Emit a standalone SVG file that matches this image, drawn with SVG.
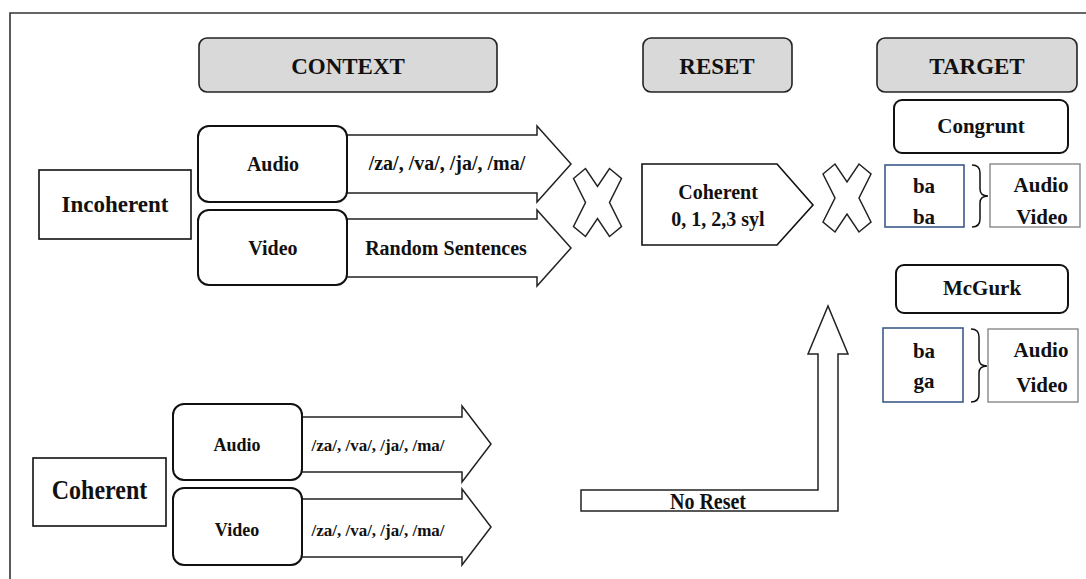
<svg xmlns="http://www.w3.org/2000/svg" width="1086" height="579" viewBox="0 0 1086 579">
<style>
text{font-family:"Liberation Serif","Times New Roman",serif;font-weight:bold;fill:#111;text-anchor:middle}
.hdr{fill:#d9d9d9;stroke:#222;stroke-width:1.6}
.rb{fill:#fff;stroke:#111;stroke-width:2}
.sq{fill:#fff;stroke:#111;stroke-width:1.6}
.arw{fill:#fff;stroke:#222;stroke-width:1.5}
.blue{fill:#fff;stroke:#3d5a8a;stroke-width:1.6}
.gray{fill:#fff;stroke:#888;stroke-width:1.4}
.br{fill:none;stroke:#111;stroke-width:1.5}
.t24{font-size:23px}
.t20{font-size:20px}
.t21{font-size:21px}
.t17{font-size:17px}
</style>
<defs>
<polygon id="xmark" points="-24,-24 -12,-34 0,-16 12,-34 24,-24 12,0 24,24 12,34 0,16 -12,34 -24,24 -12,0" fill="#fff" stroke="#222" stroke-width="1.5"/>
</defs>
<path d="M10,579 V13 H1086" fill="none" stroke="#333" stroke-width="1.6"/>

<g id="hdr-context"><rect class="hdr" x="199" y="38" width="298" height="54" rx="8"/><text class="t24" x="348" y="74">CONTEXT</text></g>
<g id="hdr-reset"><rect class="hdr" x="643" y="38" width="149" height="54" rx="8"/><text class="t24" x="717" y="74">RESET</text></g>
<g id="hdr-target"><rect class="hdr" x="877" y="38" width="200" height="54" rx="8"/><text class="t24" x="977" y="74">TARGET</text></g>

<g id="connectors">
<polygon class="arw" points="340,135 537,135 537,126 571,164 537,202 537,193 340,193"/>
<polygon class="arw" points="340,219 537,219 537,210 571,248 537,286 537,277 340,277"/>
<polygon class="arw" points="296,417 462,417 462,406 491,444 462,482 462,472 296,472"/>
<polygon class="arw" points="296,499 462,499 462,489 491,527 462,565 462,557 296,557"/>
<polygon class="arw" points="581,490 818,490 818,354 808,354 828,306 848,354 838,354 838,511 581,511"/>
<path class="br" d="M972,165 Q980,165 980,173 V189 Q980,196 988,196 Q980,196 980,203 V219 Q980,227 972,227"/>
<path class="br" d="M971,329 Q979,329 979,337 V359 Q979,366 987,366 Q979,366 979,373 V394 Q979,402 971,402"/>
</g>

<g id="incoherent"><rect class="sq" x="39" y="170" width="152" height="69"/><text class="t24" x="115" y="212">Incoherent</text></g>
<g id="inc-audio"><rect class="rb" x="198" y="126" width="149" height="76" rx="11"/><text class="t20" x="273" y="171">Audio</text></g>
<g id="inc-video"><rect class="rb" x="198" y="210" width="149" height="75" rx="11"/><text class="t20" x="273" y="255">Video</text></g>
<g id="inc-audio-label"><text class="t20" x="447" y="170">/za/, /va/, /ja/, /ma/</text></g>
<g id="inc-video-label"><text class="t20" x="446" y="255">Random Sentences</text></g>

<g id="x1"><use href="#xmark" transform="translate(597.5,202.5)"/></g>
<g id="reset-coherent"><polygon class="sq" points="642,164 777,164 813,205 777,245 642,245"/><text class="t20" x="718" y="199">Coherent</text><text class="t20" x="718" y="226">0, 1, 2,3 syl</text></g>
<g id="x2"><use href="#xmark" transform="translate(847,198)"/></g>

<g id="congrunt"><rect class="rb" x="894" y="100" width="174" height="53" rx="8"/><text class="t21" x="981" y="133">Congrunt</text></g>
<g id="cong-syl"><rect class="blue" x="885" y="165" width="79" height="62"/><text class="t21" x="924" y="193">ba</text><text class="t21" x="924" y="224">ba</text></g>
<g id="cong-mod"><rect class="gray" x="990" y="164" width="90" height="63"/><text class="t21" x="1041" y="192">Audio</text><text class="t21" x="1042" y="224">Video</text></g>

<g id="mcgurk"><rect class="rb" x="896" y="265" width="172" height="48" rx="8"/><text class="t21" x="982" y="295">McGurk</text></g>
<g id="mcg-syl"><rect class="blue" x="883" y="328" width="80" height="74"/><text class="t21" x="924" y="358">ba</text><text class="t21" x="924" y="388">ga</text></g>
<g id="mcg-mod"><rect class="gray" x="988" y="329" width="90" height="73"/><text class="t21" x="1041" y="357">Audio</text><text class="t21" x="1042" y="392">Video</text></g>

<g id="coherent"><rect class="sq" x="33" y="458" width="133" height="68"/><text font-size="24" transform="translate(99.5,499) scale(1,1.12)" x="0" y="0">Coherent</text></g>
<g id="coh-audio"><rect class="rb" x="173" y="404" width="129" height="76" rx="11"/><text font-size="18" x="237" y="451">Audio</text></g>
<g id="coh-video"><rect class="rb" x="173" y="488" width="129" height="77" rx="11"/><text font-size="18" x="237" y="536">Video</text></g>
<g id="coh-audio-label"><text class="t17" x="378" y="451">/za/, /va/, /ja/, /ma/</text></g>
<g id="coh-video-label"><text class="t17" x="378" y="536">/za/, /va/, /ja/, /ma/</text></g>
<g id="no-reset"><text font-size="20" transform="translate(708,509) scale(1,1.2)" x="0" y="0">No Reset</text></g>
</svg>
